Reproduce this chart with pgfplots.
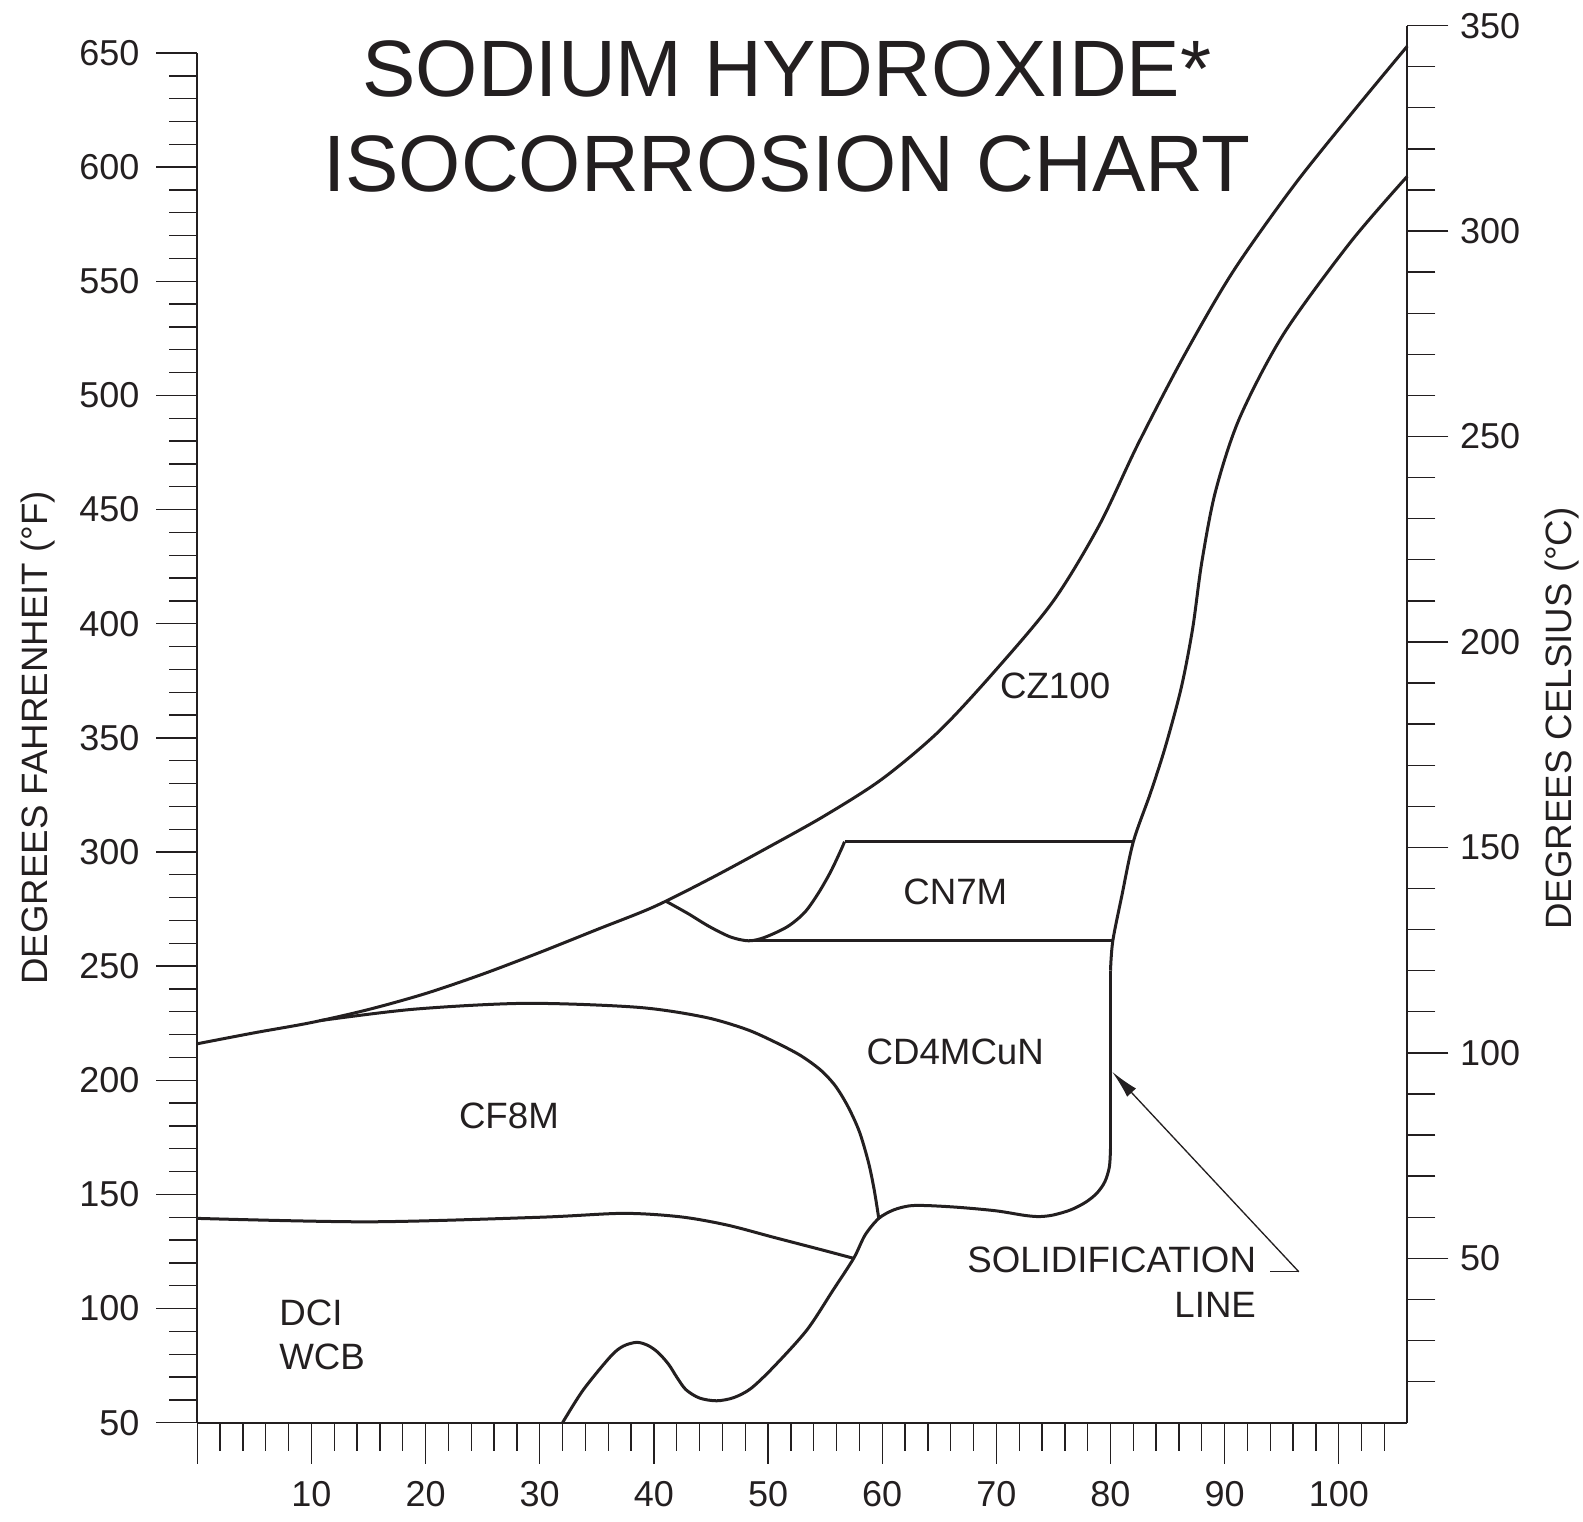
\documentclass[border=0pt]{standalone}
\usepackage{fontspec}
\setmainfont{Liberation Sans}
\usepackage{pgfplots}
\pgfplotsset{compat=1.18}
\usetikzlibrary{arrows.meta}
\definecolor{ink}{RGB}{35,31,32}
\begin{document}
\begin{tikzpicture}
\useasboundingbox (-59.19pt,-29.49pt) rectangle (415.71pt,426.81pt);
\pgfplotsset{
  common/.style={
    scale only axis, width=363pt, at={(0,0)}, anchor=south west,
    xmin=0, xmax=106,
    major tick length=12.3pt, minor tick length=8.4pt,
    tick style={line width=0.4pt, color=ink},
    tick label style={font=\fontsize{10.8}{13}\selectfont, color=ink},
    /pgf/number format/assume math mode=true,
    clip=false,
  },
  fixlines/.style={
    tick align=outside,
    axis line style={-, line width=0.6pt, color=ink},
    x axis line style={-}, y axis line style={-},
    every outer x axis line/.append style={-},
    every outer y axis line/.append style={-},
  },
}
% Right axis (degrees Celsius)
\begin{axis}[common,
  height=419.13pt,
  ymin=10, ymax=350,
  axis x line=none, axis y line=right,
  ytick={50,100,...,350}, minor ytick={20,30,...,340},
  fixlines,
]
\addplot[draw=none] coordinates {(0,10)};
\end{axis}
% Main axis (degrees Fahrenheit)
\begin{axis}[common,
  height=410.91pt,
  ymin=50, ymax=650,
  axis x line=bottom, axis y line=left,
  xtick={0,10,...,100}, xticklabels={,10,20,30,40,50,60,70,80,90,100},
  minor xtick={2,4,...,104},
  ytick={50,100,...,650}, minor ytick={60,70,...,640},
  fixlines,
  yticklabel style={xshift=-1.5pt},
  xticklabel style={yshift=-1.8pt},
]
% Curve A: upper boundary
\addplot[smooth, color=ink, line width=0.9pt] coordinates {
(0,216) (5,220.8) (10,225.3) (15,231) (20,238) (25,246.5) (30,256) (35,266)
(40,276) (45,288.5) (50,302) (55,316) (60,332) (65,353) (70,380) (75,410)
(79,443) (82.4,478.6) (86.4,517) (90.7,554) (96,591.5) (101.2,624) (106,653)
};
% CN7M lower-left curve
\addplot[smooth, color=ink, line width=0.9pt] coordinates {
(41.1,278.3) (43,273) (44.8,267.5) (46.7,262.8) (48.3,261.1) (49.7,262.6)
(51.7,267.3) (53.2,273.5) (54.4,281.9) (55.5,291.5) (56.4,301) (56.7,304.5)
};
% CN7M top and bottom lines
\addplot[color=ink, line width=0.9pt] coordinates {(56.7,304.5) (82.0,304.5)};
\addplot[color=ink, line width=0.9pt] coordinates {(48.3,261.1) (80.2,261.1)};
% Curve B: second boundary
\addplot[smooth, color=ink, line width=0.9pt] coordinates {
(106,596) (101,567) (95.15,526.8) (91.3,490) (89.2,458) (88.0,427)
(87.2,398) (86.2,372) (84.8,346) (83.5,325.8) (82.0,304.5) (81.0,281) (80.2,261) (80.0,248)
};
\addplot[color=ink, line width=0.9pt] coordinates {(80.0,248) (80.0,170)};
% Solidification line
\addplot[smooth, color=ink, line width=0.9pt] coordinates {
(80,170) (79.9,162) (79.5,155.5) (78.8,150.5) (77.8,146.5) (76.5,143.2)
(75,141) (73.8,140.3) (72.5,140.8) (70,142.8) (66.8,144.3) (64,145.1)
(62.4,145) (61,143.2) (59.7,139.5)
(58.5,132.2) (57.5,122) (55.7,108.1) (53.4,90.6) (50.5,74.5) (48.5,65)
(47,61) (45.5,59.6) (44,60.8) (42.8,64.5) (42,70) (41.3,75.5) (40.4,80.6) (39.5,83.8) (38.5,85.2)
(37.3,83.5) (36.2,79) (33.8,64.3) (32,50)
};
% CF8M top / right boundary
\addplot[smooth, color=ink, line width=0.9pt] coordinates {
(10.7,226.1) (18.9,231.1) (28.7,233.7) (38.5,232) (44.3,227.8) (48,222.5)
(50.5,217) (52.8,211) (54.6,204.5) (55.9,197.5) (57,188.5) (58,177.5)
(58.8,164) (59.3,152) (59.7,139.5)
};
% DCI / CF8M boundary
\addplot[smooth, color=ink, line width=0.9pt] coordinates {
(0,139.5) (15,138) (30,140) (37.3,141.7) (42.3,140.2) (46.4,136.6)
(50.5,131.2) (54.8,125.6) (57.5,122)
};
% Leader for solidification line
\addplot[color=ink, line width=0.4pt, -{Latex[length=8.5pt,width=3.6pt]}] coordinates {(96.5,116.1) (80.15,203.7)};
\addplot[color=ink, line width=0.4pt] coordinates {(94.0,116.1) (96.5,116.1)};
% Texts
\node[anchor=base, inner sep=0, color=ink, font=\fontsize{24}{29}\selectfont] at (axis cs:51.66,631.1) {SODIUM HYDROXIDE*};
\node[anchor=base, inner sep=0, color=ink, font=\fontsize{24}{29}\selectfont] at (axis cs:51.66,589.2) {ISOCORROSION CHART};
\begin{scope}[every node/.style={inner sep=0, color=ink, font=\fontsize{11}{13}\selectfont}]
\node[anchor=base] at (axis cs:75.15,367.2) {CZ100};
\node[anchor=base] at (axis cs:66.4,277) {CN7M};
\node[anchor=base] at (axis cs:66.4,207.1) {CD4MCuN};
\node[anchor=base] at (axis cs:27.3,179) {CF8M};
\node[anchor=base west] at (axis cs:7.13,92.5) {DCI};
\node[anchor=base west] at (axis cs:7.13,73.1) {WCB};
\node[anchor=base east] at (axis cs:92.8,115.9) {SOLIDIFICATION};
\node[anchor=base east] at (axis cs:92.8,96.1) {LINE};
\node[anchor=base, rotate=90] at (axis cs:-13.1,350) {DEGREES FAHRENHEIT (°F)};
\node[anchor=base, rotate=90] at (axis cs:120.4,358.5) {DEGREES CELSIUS (°C)};
\end{scope}
\end{axis}
\end{tikzpicture}
\end{document}
